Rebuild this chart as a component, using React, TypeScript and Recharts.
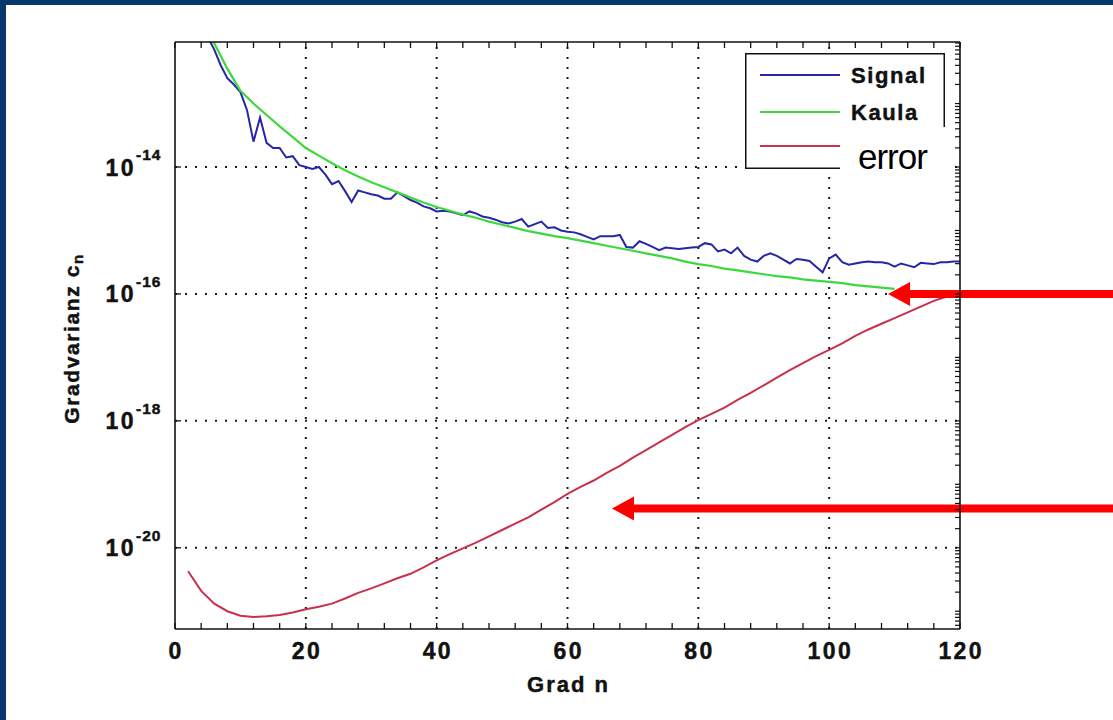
import React from "react";
import { LineChart, Line, XAxis, YAxis, ReferenceLine, Legend } from "recharts";

const FONT = '"Liberation Sans", Arial, Helvetica, sans-serif';
const INK = "#111";

const seriesNames = ["Signal", "Kaula", "error"];
const seriesColors = ["#2626a8", "#3cd83c", "#c8304c"];

// Signal, degree n = 2..120 (log10 of degree variance)
const signalExp = [
  -11.2, -11.5, -11.75, -11.95, -12.15, -12.4, -12.6, -12.7, -12.82, -13.1,
  -13.6, -13.22, -13.62, -13.7, -13.7, -13.85, -13.83, -13.97, -14.0, -14.03,
  -14.0, -14.12, -14.27, -14.22, -14.38, -14.55, -14.37, -14.4, -14.43, -14.45,
  -14.5, -14.5, -14.4, -14.46, -14.52, -14.56, -14.62, -14.65, -14.7, -14.69,
  -14.7, -14.73, -14.76, -14.7, -14.73, -14.78, -14.8, -14.83, -14.87, -14.89,
  -14.86, -14.82, -14.94, -14.9, -14.86, -14.96, -14.95, -15.0, -15.02, -15.03,
  -15.06, -15.1, -15.14, -15.09, -15.09, -15.09, -15.07, -15.26, -15.27, -15.17,
  -15.21, -15.26, -15.31, -15.27, -15.28, -15.29, -15.28, -15.27, -15.26, -15.2,
  -15.22, -15.33, -15.3, -15.36, -15.27, -15.4, -15.46, -15.49, -15.4, -15.36,
  -15.4, -15.46, -15.52, -15.45, -15.46, -15.48, -15.57, -15.66, -15.44, -15.38,
  -15.5, -15.54, -15.52, -15.5, -15.49, -15.5, -15.5, -15.52, -15.57, -15.52,
  -15.55, -15.58, -15.51, -15.52, -15.53, -15.5, -15.5, -15.49, -15.49,
];

// Kaula, even degrees n = 2..110
const kaulaExp = [
  -10.6, -11.5, -12.05, -12.45, -12.8, -13.0, -13.18, -13.36, -13.53, -13.7,
  -13.82, -13.94, -14.05, -14.15, -14.24, -14.32, -14.4, -14.48, -14.56, -14.63,
  -14.69, -14.75, -14.8, -14.86, -14.91, -14.96, -15.01, -15.05, -15.09, -15.12,
  -15.16, -15.2, -15.24, -15.28, -15.32, -15.36, -15.4, -15.44, -15.49, -15.53,
  -15.56, -15.6, -15.63, -15.66, -15.69, -15.72, -15.74, -15.77, -15.79, -15.81,
  -15.83, -15.86, -15.88, -15.9, -15.92,
];

// error, even degrees n = 2..120
const errorExp = [
  -20.37, -20.68, -20.88, -21.0, -21.07, -21.09, -21.08, -21.06, -21.02, -20.97,
  -20.93, -20.88, -20.8, -20.71, -20.64, -20.56, -20.48, -20.41, -20.31, -20.2,
  -20.1, -20.01, -19.92, -19.82, -19.72, -19.62, -19.52, -19.4, -19.28, -19.15,
  -19.04, -18.94, -18.82, -18.71, -18.58, -18.46, -18.34, -18.22, -18.1, -17.99,
  -17.89, -17.79, -17.67, -17.56, -17.44, -17.32, -17.2, -17.09, -16.98, -16.88,
  -16.78, -16.66, -16.56, -16.47, -16.38, -16.29, -16.2, -16.11, -16.04, -15.98,
];

const xTicks = [0, 4, 8, 12, 16, 20, 24, 28, 32, 36, 40, 44, 48, 52, 56, 60, 64, 68, 72, 76, 80, 84, 88, 92, 96, 100, 104, 108, 112, 116, 120];
const gridX = [20, 40, 60, 80, 100];
const yTicks = [1e-20, 1e-18, 1e-16, 1e-14];
const yDomain = [10 ** -21.28, 10 ** -12.03];
const minorSteps = [1, 2, 3, 4, 5, 6, 7, 8, 9];
const decades = [-22, -21, -20, -19, -18, -17, -16, -15, -14, -13];

// red annotation arrows: tip (n, log10 value), tail runs off the right edge
const arrowTips = [
  { n: 109, exp: -16.0 },
  { n: 66.8, exp: -19.38 },
];
const arrowTailN = 143.4;

const rightTicks = decades
  .flatMap((d) => minorSteps.map((m) => m * 10 ** d))
  .filter((v) => v > yDomain[0] && v < yDomain[1]);

const rows = signalExp.map((s, i) => {
  const n = i + 2;
  const even = n % 2 === 0;
  const k = even ? kaulaExp[n / 2 - 1] : undefined;
  const e = even ? errorExp[n / 2 - 1] : undefined;
  return {
    n,
    signal: 10 ** s,
    kaula: k !== undefined ? 10 ** k : null,
    error: e !== undefined ? 10 ** e : null,
  };
});

// heavy bold text, close to the bitmap look of the original
const boldStyle = { fontFamily: FONT, fontWeight: 700, fill: INK, stroke: INK, strokeWidth: 0.45 } as const;

function BottomTick({ x, y, payload }: any) {
  return (
    <g>
      <line x1={x} y1={y} x2={x} y2={y - 6} stroke={INK} strokeWidth={1.3} />
      {payload.value % 20 === 0 && (
        <text x={x + 1.2} y={y + 30} textAnchor="middle" fontSize={23} letterSpacing={2.4} {...boldStyle}>
          {payload.value}
        </text>
      )}
    </g>
  );
}

function TopTick({ x, y }: any) {
  return <line x1={x} y1={y} x2={x} y2={y + 6} stroke={INK} strokeWidth={1.3} />;
}

function LeftTick({ x, y, payload }: any) {
  const e = Math.round(Math.log10(payload.value));
  return (
    <g>
      <line x1={x} y1={y} x2={x + 6} y2={y} stroke={INK} strokeWidth={1.3} />
      <text x={x - 39} y={y + 8.5} textAnchor="end" fontSize={23} letterSpacing={2.4} {...boldStyle}>
        10
      </text>
      <text x={x - 39} y={y - 7} textAnchor="start" fontSize={15.5} letterSpacing={1} {...boldStyle}>
        {`${e}`}
      </text>
    </g>
  );
}

function RightTick({ x, y }: any) {
  return <line x1={x} y1={y} x2={x - 5} y2={y} stroke={INK} strokeWidth={1.2} />;
}

function Arrow(props: any) {
  const { x1, y1, x2, y2 } = props;
  const head = 22;
  const half = 12;
  const shaft = 4;
  const bx = x1 + head;
  const pts = [
    [x1, y1],
    [bx, y1 - half],
    [bx, y1 - shaft],
    [x2, y2 - shaft],
    [x2, y2 + shaft],
    [bx, y1 + shaft],
    [bx, y1 + half],
  ];
  return <polygon points={pts.map((p) => p.join(",")).join(" ")} fill="#ff0000" />;
}

function LegendBox() {
  const rowY = [22, 59, 93];
  return (
    <svg width={200} height={116} style={{ overflow: "visible", display: "block" }}>
      <rect x={0.75} y={0.75} width={198.5} height={114.5} fill="#fff" stroke={INK} strokeWidth={1.5} />
      {seriesNames.map((name, i) => (
        <line key={name} x1={15} x2={95} y1={rowY[i]} y2={rowY[i]} stroke={seriesColors[i]} strokeWidth={2} />
      ))}
      {seriesNames.slice(0, 2).map((name, i) => (
        <text key={name} x={106} y={rowY[i] + 7.5} fontSize={22} letterSpacing={1.6} {...boldStyle}>
          {name}
        </text>
      ))}
      <rect x={95} y={74} width={107} height={54} fill="#fff" />
      <text x={113} y={116} fontFamily={FONT} fontSize={35} letterSpacing={-1} fill="#000">
        {seriesNames[2]}
      </text>
    </svg>
  );
}

export default function App() {
  return (
    <div style={{ position: "absolute", left: 0, top: 0, width: 1113, height: 720, background: "#07386b", overflow: "hidden" }}>
      <div style={{ position: "absolute", left: 6, top: 5, right: 0, bottom: 0, background: "#fff" }} />
      <div style={{ position: "absolute", left: 0, top: 0, fontFamily: FONT }}>
        <LineChart width={1113} height={720} data={rows} margin={{ top: 41, right: 152, bottom: 0, left: 0 }}>
          <XAxis
            xAxisId="bottom"
            dataKey="n"
            type="number"
            domain={[0, 120]}
            ticks={xTicks}
            interval={0}
            height={91}
            tickSize={0}
            tickMargin={0}
            tickLine={false}
            tick={<BottomTick />}
            axisLine={{ stroke: INK, strokeWidth: 1.6 }}
            allowDataOverflow
            label={{
              content: (p: any) => {
                const vb = p.viewBox || { x: 175, width: 785 };
                return (
                  <text x={vb.x + vb.width / 2 + 1} y={692} textAnchor="middle" fontSize={22} letterSpacing={2} {...boldStyle}>
                    Grad n
                  </text>
                );
              },
            }}
          />
          <XAxis
            xAxisId="top"
            orientation="top"
            dataKey="n"
            type="number"
            domain={[0, 120]}
            ticks={xTicks}
            interval={0}
            height={1}
            tickSize={0}
            tickMargin={0}
            tickLine={false}
            tick={<TopTick />}
            axisLine={{ stroke: INK, strokeWidth: 1.6 }}
            allowDataOverflow
          />
          <YAxis
            yAxisId="left"
            type="number"
            scale="log"
            domain={yDomain}
            ticks={yTicks}
            interval={0}
            width={175}
            tickSize={0}
            tickMargin={0}
            tickLine={false}
            tick={<LeftTick />}
            axisLine={{ stroke: INK, strokeWidth: 1.6 }}
            allowDataOverflow
            label={{
              content: (p: any) => {
                const vb = p.viewBox || { y: 42, height: 587 };
                const cx = 71;
                const cy = vb.y + vb.height / 2 + 3;
                return (
                  <text
                    x={cx}
                    y={cy}
                    transform={`rotate(-90 ${cx} ${cy})`}
                    textAnchor="middle"
                    dominantBaseline="central"
                    fontSize={21}
                    letterSpacing={1.6}
                    {...boldStyle}
                  >
                    Gradvarianz c
                    <tspan dy={6} fontSize={15}>
                      n
                    </tspan>
                  </text>
                );
              },
            }}
          />
          <YAxis
            yAxisId="right"
            orientation="right"
            type="number"
            scale="log"
            domain={yDomain}
            ticks={rightTicks}
            interval={0}
            width={1}
            tickSize={0}
            tickMargin={0}
            tickLine={false}
            tick={<RightTick />}
            axisLine={{ stroke: INK, strokeWidth: 1.6 }}
            allowDataOverflow
          />

          {gridX.map((v) => (
            <ReferenceLine
              key={`gx${v}`}
              x={v}
              xAxisId="bottom"
              yAxisId="left"
              stroke="#1a1a1a"
              strokeWidth={2}
              strokeDasharray="2 8"
            />
          ))}
          {yTicks.map((v) => (
            <ReferenceLine
              key={`gy${v}`}
              y={v}
              xAxisId="bottom"
              yAxisId="left"
              stroke="#1a1a1a"
              strokeWidth={2}
              strokeDasharray="2 8"
            />
          ))}

          <Line
            xAxisId="bottom"
            yAxisId="left"
            name={seriesNames[0]}
            dataKey="signal"
            type="linear"
            stroke={seriesColors[0]}
            strokeWidth={2}
            dot={false}
            connectNulls
            isAnimationActive={false}
          />
          <Line
            xAxisId="bottom"
            yAxisId="left"
            name={seriesNames[1]}
            dataKey="kaula"
            type="linear"
            stroke={seriesColors[1]}
            strokeWidth={2.2}
            dot={false}
            connectNulls
            isAnimationActive={false}
          />
          <Line
            xAxisId="bottom"
            yAxisId="left"
            name={seriesNames[2]}
            dataKey="error"
            type="linear"
            stroke={seriesColors[2]}
            strokeWidth={2}
            dot={false}
            connectNulls
            isAnimationActive={false}
          />

          {arrowTips.map((a, i) => (
            <ReferenceLine
              key={`arrow${i}`}
              xAxisId="bottom"
              yAxisId="left"
              ifOverflow="visible"
              segment={[
                { x: a.n, y: 10 ** a.exp },
                { x: arrowTailN, y: 10 ** a.exp },
              ]}
              shape={(p: any) => <Arrow {...p} />}
            />
          ))}

          <Legend
            layout="horizontal"
            verticalAlign="middle"
            align="center"
            content={() => <LegendBox />}
            wrapperStyle={{ left: 745, top: 53, width: 200, height: 116, overflow: "visible" }}
          />
        </LineChart>
      </div>
    </div>
  );
}
